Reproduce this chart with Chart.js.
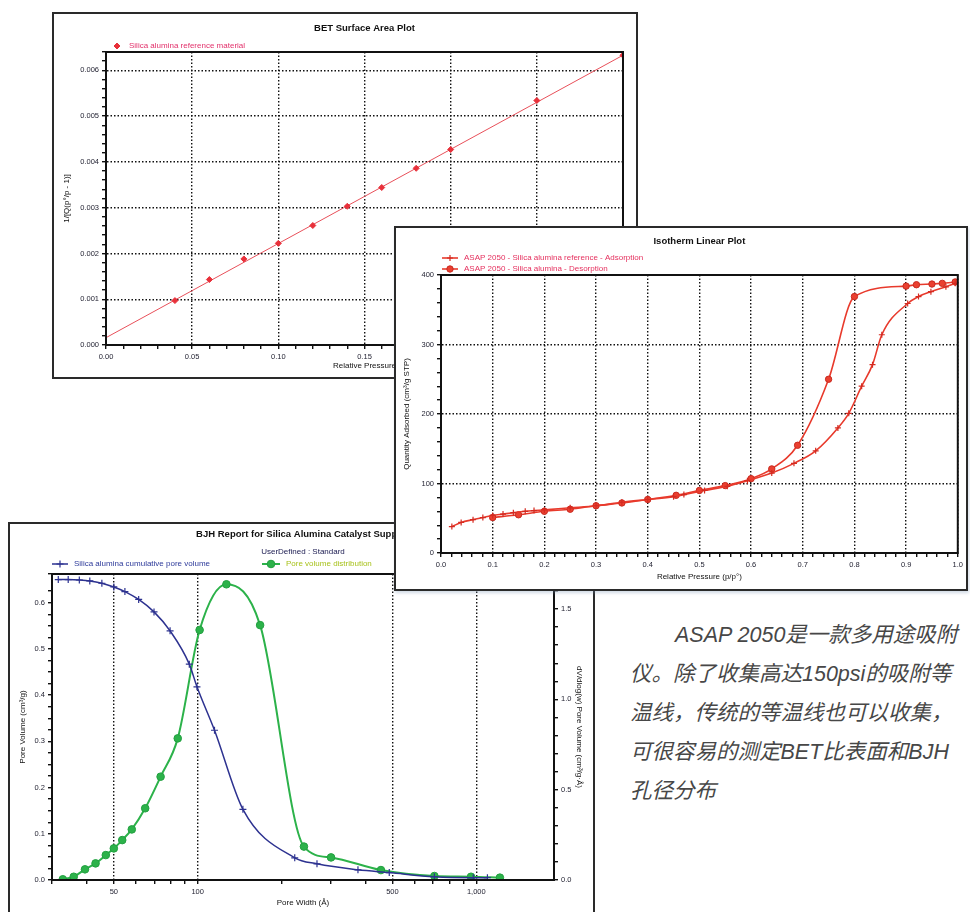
<!DOCTYPE html>
<html>
<head>
<meta charset="utf-8">
<script src="https://cdn.jsdelivr.net/npm/chart.js"></script>
<style>
  html, body { margin: 0; padding: 0; background: #fff; width: 970px; height: 912px; overflow: hidden; position: relative; }
  .box { position: absolute; border: 2px solid #2a2a2a; background: #fff; }
  .box canvas { display: block; }
  #bet { left: 52px; top: 12px; width: 582px; height: 363px; z-index: 1; }
  #bjh { left: 8px; top: 522px; width: 583px; height: 396px; z-index: 2; }
  #iso { left: 394px; top: 226px; width: 570px; height: 361px; z-index: 3; box-shadow: 1px 2px 3px rgba(120,150,180,0.35); }
  #note { position: absolute; left: 630px; top: 616px; white-space: nowrap; text-indent: 45px;
          font: italic 21.5px/39px "Liberation Sans", "Noto Sans CJK SC", sans-serif; color: #474747; }
</style>
</head>
<body>
<div class="box" id="bet"><canvas id="betChart" width="582" height="363"></canvas></div>
<div class="box" id="bjh"><canvas id="bjhChart" width="583" height="396"></canvas></div>
<div class="box" id="iso"><canvas id="isoChart" width="570" height="361"></canvas></div>
<div id="note">ASAP 2050是一款多用途吸附<br>仪。除了收集高达150psi的吸附等<br>温线，传统的等温线也可以收集，<br>可很容易的测定BET比表面和BJH<br>孔径分布</div>

<script>
// BET surface area plot
const betP = [0.04, 0.06, 0.08, 0.10, 0.12, 0.14, 0.16, 0.18, 0.20, 0.25, 0.30];
const betQ = [0.00097, 0.00143, 0.00188, 0.00222, 0.00261, 0.00303, 0.00344, 0.00386, 0.00427, 0.00534, 0.00633];
const betFitP = [0, 0.30];
const betFitQ = [0.00016, 0.00633];
const betXLabels = [0, 0.05, 0.10, 0.15, 0.20, 0.25, 0.30];
const betYLabels = [0, 0.001, 0.002, 0.003, 0.004, 0.005, 0.006];

// isotherm linear plot
const adsP = [0.021, 0.039, 0.062, 0.081, 0.10, 0.12, 0.14, 0.163, 0.18, 0.20, 0.25, 0.30, 0.35, 0.40, 0.45, 0.47, 0.51, 0.554, 0.593, 0.64, 0.683, 0.725, 0.768, 0.789, 0.814, 0.835, 0.853, 0.903, 0.924, 0.948, 0.977, 0.995];
const adsQ = [38, 44, 48, 51, 54, 56, 58, 60, 61, 62, 65, 68, 73, 77, 81, 84, 90, 96, 104, 115, 129, 147, 180, 201, 240, 271, 314, 359, 369, 376, 383, 388];
const desP = [0.10, 0.15, 0.20, 0.25, 0.30, 0.35, 0.40, 0.455, 0.50, 0.55, 0.60, 0.64, 0.69, 0.75, 0.80, 0.90, 0.92, 0.95, 0.97, 0.995];
const desQ = [51, 55, 60, 63, 68, 72, 77, 83, 90, 97, 107, 121, 155, 250, 369, 384, 386, 387, 388, 390];
const isoXLabels = [0, 0.1, 0.2, 0.3, 0.4, 0.5, 0.6, 0.7, 0.8, 0.9, 1.0];
const isoYLabels = [0, 100, 200, 300, 400];

// BJH pore report
const cumW = [31.6, 34.3, 37.6, 41.0, 45.3, 50, 54.8, 61.4, 69.7, 79.6, 93.3, 99.4, 114.9, 145.3, 223, 268, 376, 487, 707, 975, 1096];
const cumV = [0.650, 0.650, 0.649, 0.647, 0.642, 0.634, 0.624, 0.607, 0.580, 0.539, 0.467, 0.418, 0.324, 0.153, 0.048, 0.035, 0.022, 0.016, 0.007, 0.005, 0.005];
const distW = [32.8, 35.9, 39.4, 43.0, 46.8, 50, 53.6, 58.0, 64.8, 73.6, 84.8, 101.6, 126.8, 167.5, 240.6, 301, 454.6, 707, 957, 1215];
const distV = [0.004, 0.018, 0.059, 0.092, 0.138, 0.175, 0.221, 0.280, 0.397, 0.572, 0.784, 1.384, 1.637, 1.411, 0.185, 0.125, 0.055, 0.022, 0.018, 0.013];
const bjhXTicks = [30, 40, 50, 60, 70, 80, 90, 100, 200, 300, 400, 500, 600, 700, 800, 900, 1000];
const bjhXLabels = [50, 100, 500, 1000];
const bjhYLabels = [0, 0.1, 0.2, 0.3, 0.4, 0.5, 0.6];
const bjhY2Labels = [0, 0.5, 1.0, 1.5];

Chart.defaults.animation = false;
Chart.defaults.font.family = '"Liberation Sans", Arial, sans-serif';

const fam = '"Liberation Sans", Arial, sans-serif';
const tickFont = { family: fam, size: 7.5 };
const axisFont = { family: fam, size: 8 };
const headFont = { family: fam, size: 9.5, weight: 'bold' };

const pts = (xs, ys) => xs.map((x, i) => ({ x, y: ys[i] }));
const hit = (list, v, tol) => list.find(l => Math.abs(l - v) < tol);

function axis(o) {
  const tol = o.tol || 1e-9;
  return {
    type: o.type || 'linear', position: o.pos, min: o.min, max: o.max,
    afterFit: s => { if (o.w) s.width = o.w; if (o.h) s.height = o.h; },
    afterBuildTicks: o.ticks ? (s => { s.ticks = o.ticks.map(v => ({ value: v })); }) : undefined,
    ticks: {
      stepSize: o.step, autoSkip: false, minRotation: 0, maxRotation: 0, padding: 3,
      color: '#1e1e2e', font: tickFont,
      callback: v => { const t = hit(o.labels, v, tol); return t === undefined ? '' : o.fmt(t); }
    },
    grid: {
      drawOnChartArea: o.grid !== false,
      color: c => (c.tick && hit(o.gridAt || o.labels, c.tick.value, tol) !== undefined) ? '#111' : 'rgba(0,0,0,0)',
      tickColor: '#111', tickLength: 4, lineWidth: 1.4
    },
    border: { display: true, color: '#111', width: 2, dash: [1.5, 2] },
    title: { display: true, text: o.title, font: axisFont, color: '#111', padding: o.tpad }
  };
}

const frame = {
  id: 'frame',
  afterDatasetsDraw(chart) {
    const { ctx, chartArea: a } = chart;
    ctx.save();
    ctx.strokeStyle = '#111';
    ctx.lineWidth = 2;
    ctx.strokeRect(a.left, a.top, a.right - a.left, a.bottom - a.top);
    ctx.restore();
  }
};

// legend rows placed just above the plot, like the instrument printout
function rowLegend(items) {
  return {
    id: 'rowLegend',
    afterDraw(chart) {
      const { ctx, chartArea } = chart;
      ctx.save();
      ctx.font = '8px ' + fam;
      ctx.textBaseline = 'middle';
      ctx.textAlign = 'left';
      items.forEach(it => {
        const ds = chart.data.datasets[it.ds];
        const x = chartArea.left + it.dx, y = chartArea.top + it.dy;
        if (it.len) {
          ctx.strokeStyle = ds.borderColor;
          ctx.lineWidth = ds.borderWidth;
          ctx.beginPath(); ctx.moveTo(x, y); ctx.lineTo(x + it.len, y); ctx.stroke();
        }
        ctx.fillStyle = ds.pointBackgroundColor;
        ctx.strokeStyle = ds.pointBorderColor;
        ctx.lineWidth = ds.pointBorderWidth;
        const cx = it.len ? x + it.len / 2 : x;
        if (Chart.helpers && Chart.helpers.drawPoint) {
          Chart.helpers.drawPoint(ctx, { pointStyle: ds.pointStyle, radius: ds.pointRadius, borderWidth: ds.pointBorderWidth, rotation: 0 }, cx, y);
        }
        ctx.fillStyle = it.color;
        ctx.fillText(ds.label, x + (it.len || 0) + (it.gap || 6), y);
      });
      ctx.restore();
    }
  };
}

// BET
new Chart(document.getElementById('betChart'), {
  type: 'line',
  data: {
    datasets: [
      { label: 'Silica alumina reference material', data: pts(betP, betQ), showLine: false,
        borderColor: '#e03040', borderWidth: 1, pointStyle: 'rectRot', pointRadius: 3,
        pointBackgroundColor: '#e8303a', pointBorderColor: '#e8303a', pointBorderWidth: 1 },
      { label: 'fit', data: pts(betFitP, betFitQ), borderColor: '#e8505a', borderWidth: 1,
        pointRadius: 0, fill: false }
    ]
  },
  options: {
    responsive: false,
    layout: { padding: { top: 4, left: 0, right: 13, bottom: 2 } },
    plugins: {
      legend: { display: false },
      tooltip: { enabled: false },
      title: { display: true, text: 'BET Surface Area Plot', fullSize: false, font: headFont, color: '#111',
               padding: { top: 5, bottom: 17.6 } }
    },
    scales: {
      x: axis({ pos: 'bottom', min: 0, max: 0.30, step: 0.01, labels: betXLabels, fmt: v => v.toFixed(2),
                tol: 1e-6, h: 30, title: 'Relative Pressure', tpad: { top: 0, bottom: 4 } }),
      y: axis({ pos: 'left', min: 0, max: 0.0064, step: 0.0002, labels: betYLabels, fmt: v => v.toFixed(3),
                tol: 1e-8, w: 52, title: '1/[Q(p°/p - 1)]', tpad: { top: 8, bottom: 0 } })
    }
  },
  plugins: [frame, rowLegend([{ ds: 0, dx: 11, dy: -6, len: 0, gap: 12, color: '#e2306a' }])]
});

// Isotherm
new Chart(document.getElementById('isoChart'), {
  type: 'line',
  data: {
    datasets: [
      { label: 'ASAP 2050 - Silica alumina reference - Adsorption', data: pts(adsP, adsQ),
        borderColor: '#e83a2c', borderWidth: 1.6, cubicInterpolationMode: 'monotone',
        pointStyle: 'cross', pointRadius: 3, pointBackgroundColor: '#e83a2c', pointBorderColor: '#d42a20', pointBorderWidth: 1.2 },
      { label: 'ASAP 2050 - Silica alumina - Desorption', data: pts(desP, desQ),
        borderColor: '#e83a2c', borderWidth: 1.6, cubicInterpolationMode: 'monotone',
        pointStyle: 'circle', pointRadius: 3.2, pointBackgroundColor: '#ea4030', pointBorderColor: '#c82a20', pointBorderWidth: 1 }
    ]
  },
  options: {
    responsive: false,
    layout: { padding: { top: 3, left: 0, right: 4, bottom: 6 } },
    plugins: {
      legend: { display: false },
      tooltip: { enabled: false },
      title: { display: true, text: 'Isotherm Linear Plot', fullSize: false, font: headFont, color: '#111',
               padding: { top: 5, bottom: 27.6 } }
    },
    scales: {
      x: axis({ pos: 'bottom', min: 0, max: 1, step: 0.02, labels: isoXLabels, fmt: v => v.toFixed(1),
                tol: 1e-6, h: 30, title: 'Relative Pressure (p/p°)', tpad: { top: 0, bottom: 1 } }),
      y: axis({ pos: 'left', min: 0, max: 400, step: 20, labels: isoYLabels, fmt: v => String(v),
                tol: 1e-6, w: 45, title: 'Quantity Adsorbed (cm³/g STP)', tpad: { top: 6, bottom: 0 } })
    }
  },
  plugins: [frame, rowLegend([
    { ds: 0, dx: 1, dy: -17, len: 16, color: '#e5305e' },
    { ds: 1, dx: 1, dy: -6, len: 16, color: '#e5305e' }
  ])]
});

// BJH
new Chart(document.getElementById('bjhChart'), {
  type: 'line',
  data: {
    datasets: [
      { label: 'Silica alumina cumulative pore volume', data: pts(cumW, cumV), yAxisID: 'y',
        borderColor: '#2d3290', borderWidth: 1.5, cubicInterpolationMode: 'monotone',
        pointStyle: 'cross', pointRadius: 3.5, pointBackgroundColor: '#2d3290', pointBorderColor: '#2d3290', pointBorderWidth: 1.2 },
      { label: 'Pore volume distribution', data: pts(distW, distV), yAxisID: 'y2',
        borderColor: '#2cb24a', borderWidth: 2, cubicInterpolationMode: 'monotone',
        pointStyle: 'circle', pointRadius: 3.8, pointBackgroundColor: '#2cb24a', pointBorderColor: '#22a040', pointBorderWidth: 1 }
    ]
  },
  options: {
    responsive: false,
    layout: { padding: { top: 1, left: 0, right: 0, bottom: 10 } },
    plugins: {
      legend: { display: false },
      tooltip: { enabled: false },
      title: { display: true, text: 'BJH Report for Silica Alumina Catalyst Support', fullSize: false, font: headFont,
               color: '#111', padding: { top: 4, bottom: 0 } },
      subtitle: { display: true, text: 'UserDefined : Standard', fullSize: false, font: axisFont, color: '#1a1a50',
                  padding: { top: 6.8, bottom: 17.2 } }
    },
    scales: {
      x: axis({ type: 'logarithmic', pos: 'bottom', min: 30, max: 1900, ticks: bjhXTicks, labels: bjhXLabels,
                fmt: v => v >= 1000 ? '1,000' : String(v), tol: 1e-6, h: 30,
                title: 'Pore Width (Å)', tpad: { top: 0, bottom: 2 } }),
      y: axis({ pos: 'left', min: 0, max: 0.662, step: 0.025, labels: bjhYLabels, fmt: v => v.toFixed(1),
                tol: 1e-6, w: 42, grid: false, title: 'Pore Volume (cm³/g)', tpad: { top: 8, bottom: 0 } }),
      y2: axis({ pos: 'right', min: 0, max: 1.694, step: 0.1, labels: bjhY2Labels, fmt: v => v.toFixed(1),
                 tol: 1e-6, w: 39, grid: false, title: 'dV/dlog(w) Pore Volume (cm³/g·Å)', tpad: { top: 9, bottom: 0 } })
    }
  },
  plugins: [frame, rowLegend([
    { ds: 0, dx: 0, dy: -10, len: 16, color: '#2d3a9a' },
    { ds: 1, dx: 210, dy: -10, len: 18, color: '#a8c21c' }
  ])]
});
</script>
</body>
</html>
